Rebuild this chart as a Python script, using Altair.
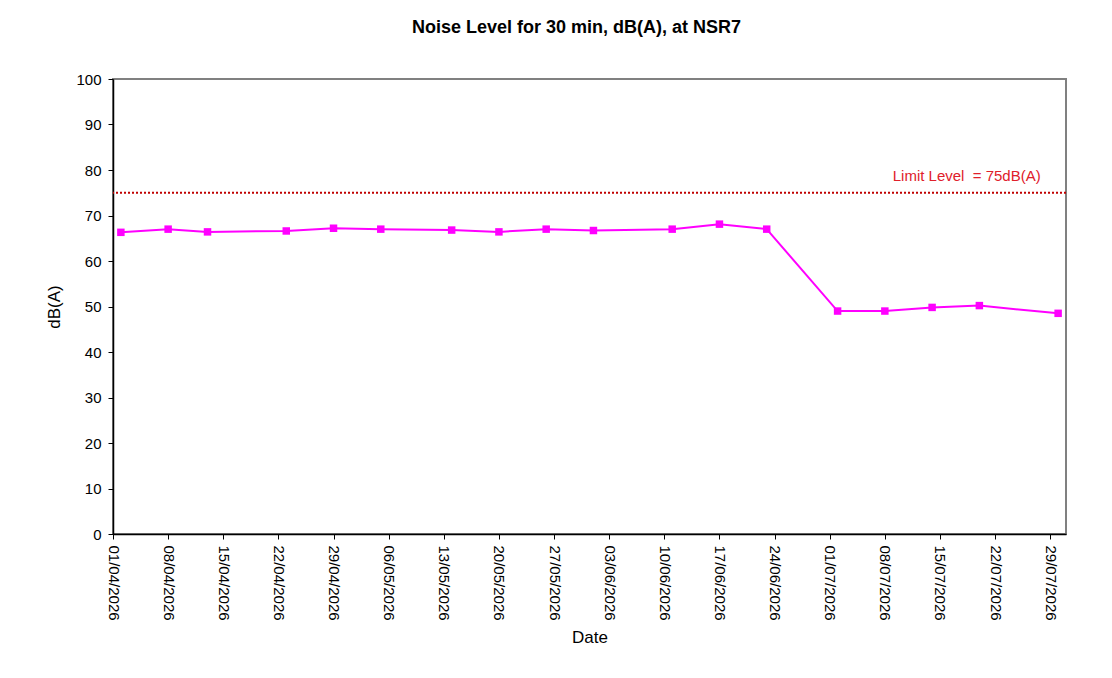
import altair as alt
import pandas as pd

# ---- data ----
dates = ["2026-04-02", "2026-04-08", "2026-04-13", "2026-04-23", "2026-04-29",
         "2026-05-05", "2026-05-14", "2026-05-20", "2026-05-26", "2026-06-01",
         "2026-06-11", "2026-06-17", "2026-06-23", "2026-07-02", "2026-07-08",
         "2026-07-14", "2026-07-20", "2026-07-30"]
levels = [66.3, 67.0, 66.4, 66.6, 67.2, 67.0, 66.8, 66.4, 67.0, 66.7,
          67.0, 68.1, 67.0, 49.0, 49.0, 49.8, 50.2, 48.5]
tick_dates = ["2026-04-01", "2026-04-08", "2026-04-15", "2026-04-22", "2026-04-29",
              "2026-05-06", "2026-05-13", "2026-05-20", "2026-05-27", "2026-06-03",
              "2026-06-10", "2026-06-17", "2026-06-24", "2026-07-01", "2026-07-08",
              "2026-07-15", "2026-07-22", "2026-07-29"]
x_domain = ["2026-04-01", "2026-07-31"]
y_ticks = [0, 10, 20, 30, 40, 50, 60, 70, 80, 90, 100]
limit_value = [75]
limit_label = ["Limit Level\u00a0 = 75dB(A)"]
limit_label_pos = ["2026-07-27T19:00:00"]
limit_label_level = [77.5]


def ms(s):
    return int(pd.Timestamp(s, tz="UTC").value // 10**6)


FONT = "Liberation Sans"

xscale = alt.Scale(type="utc", domain=[ms(d) for d in x_domain])
yscale = alt.Scale(domain=[0, 100], nice=False)

xaxis = alt.Axis(values=[ms(d) for d in tick_dates],
                 labelExpr="utcFormat(datum.value, '%d/%m/%Y')",
                 labelAngle=90, labelAlign="left", labelBaseline="middle",
                 labelFont=FONT, labelFontSize=15, labelColor="black", labelPadding=6,
                 tickSize=5, tickColor="black", domainColor="black", domainWidth=1.5,
                 grid=False, title="Date", titleFont=FONT, titleFontSize=17,
                 titleFontWeight="normal", titleColor="black", titlePadding=9,
                 labelOverlap=False, labelFlush=False)
yaxis = alt.Axis(values=y_ticks, labelFont=FONT, labelFontSize=15, labelColor="black",
                 labelPadding=7, tickSize=5, tickColor="black", domainColor="black",
                 domainWidth=1.5, grid=False, title="dB(A)", titleFont=FONT,
                 titleFontSize=17, titleFontWeight="normal", titleColor="black",
                 titlePadding=12)

df = pd.DataFrame({"date": dates, "value": levels})

line = alt.Chart(df).mark_line(color="#FF00FF", strokeWidth=2).encode(
    x=alt.X("date:T", scale=xscale, axis=xaxis),
    y=alt.Y("value:Q", scale=yscale, axis=yaxis),
)
pts = alt.Chart(df).mark_point(shape="square", filled=True, size=56, color="#FF00FF",
                               opacity=1).encode(
    x=alt.X("date:T", scale=xscale, axis=xaxis),
    y=alt.Y("value:Q", scale=yscale, axis=yaxis),
)
rule = alt.Chart(pd.DataFrame({"value": limit_value})).mark_rule(
    color="#C00000", strokeWidth=2, strokeDash=[2, 2]).encode(
    y=alt.Y("value:Q", scale=yscale, axis=yaxis),
)
txt = alt.Chart(pd.DataFrame({"date": limit_label_pos, "value": limit_label_level,
                              "t": limit_label})).mark_text(
    align="right", baseline="alphabetic", font=FONT, fontSize=15, color="#E0202A").encode(
    x=alt.X("date:T", scale=xscale, axis=xaxis),
    y=alt.Y("value:Q", scale=yscale, axis=yaxis),
    text="t:N",
)

chart = alt.layer(rule, line, pts, txt).properties(
    width=953, height=455,
    background="white",
    autosize=alt.AutoSizeParams(type="none"),
    padding={"left": 105, "top": 71, "right": 38, "bottom": 136},
    title=alt.TitleParams("Noise Level for 30 min, dB(A), at NSR7", font=FONT,
                          fontSize=18, fontWeight="bold", color="black",
                          anchor="middle", offset=35, dx=-13),
).configure_view(stroke="#808080", strokeWidth=2)

chart.save("out.html", embed_options={"renderer": "svg", "actions": False})
